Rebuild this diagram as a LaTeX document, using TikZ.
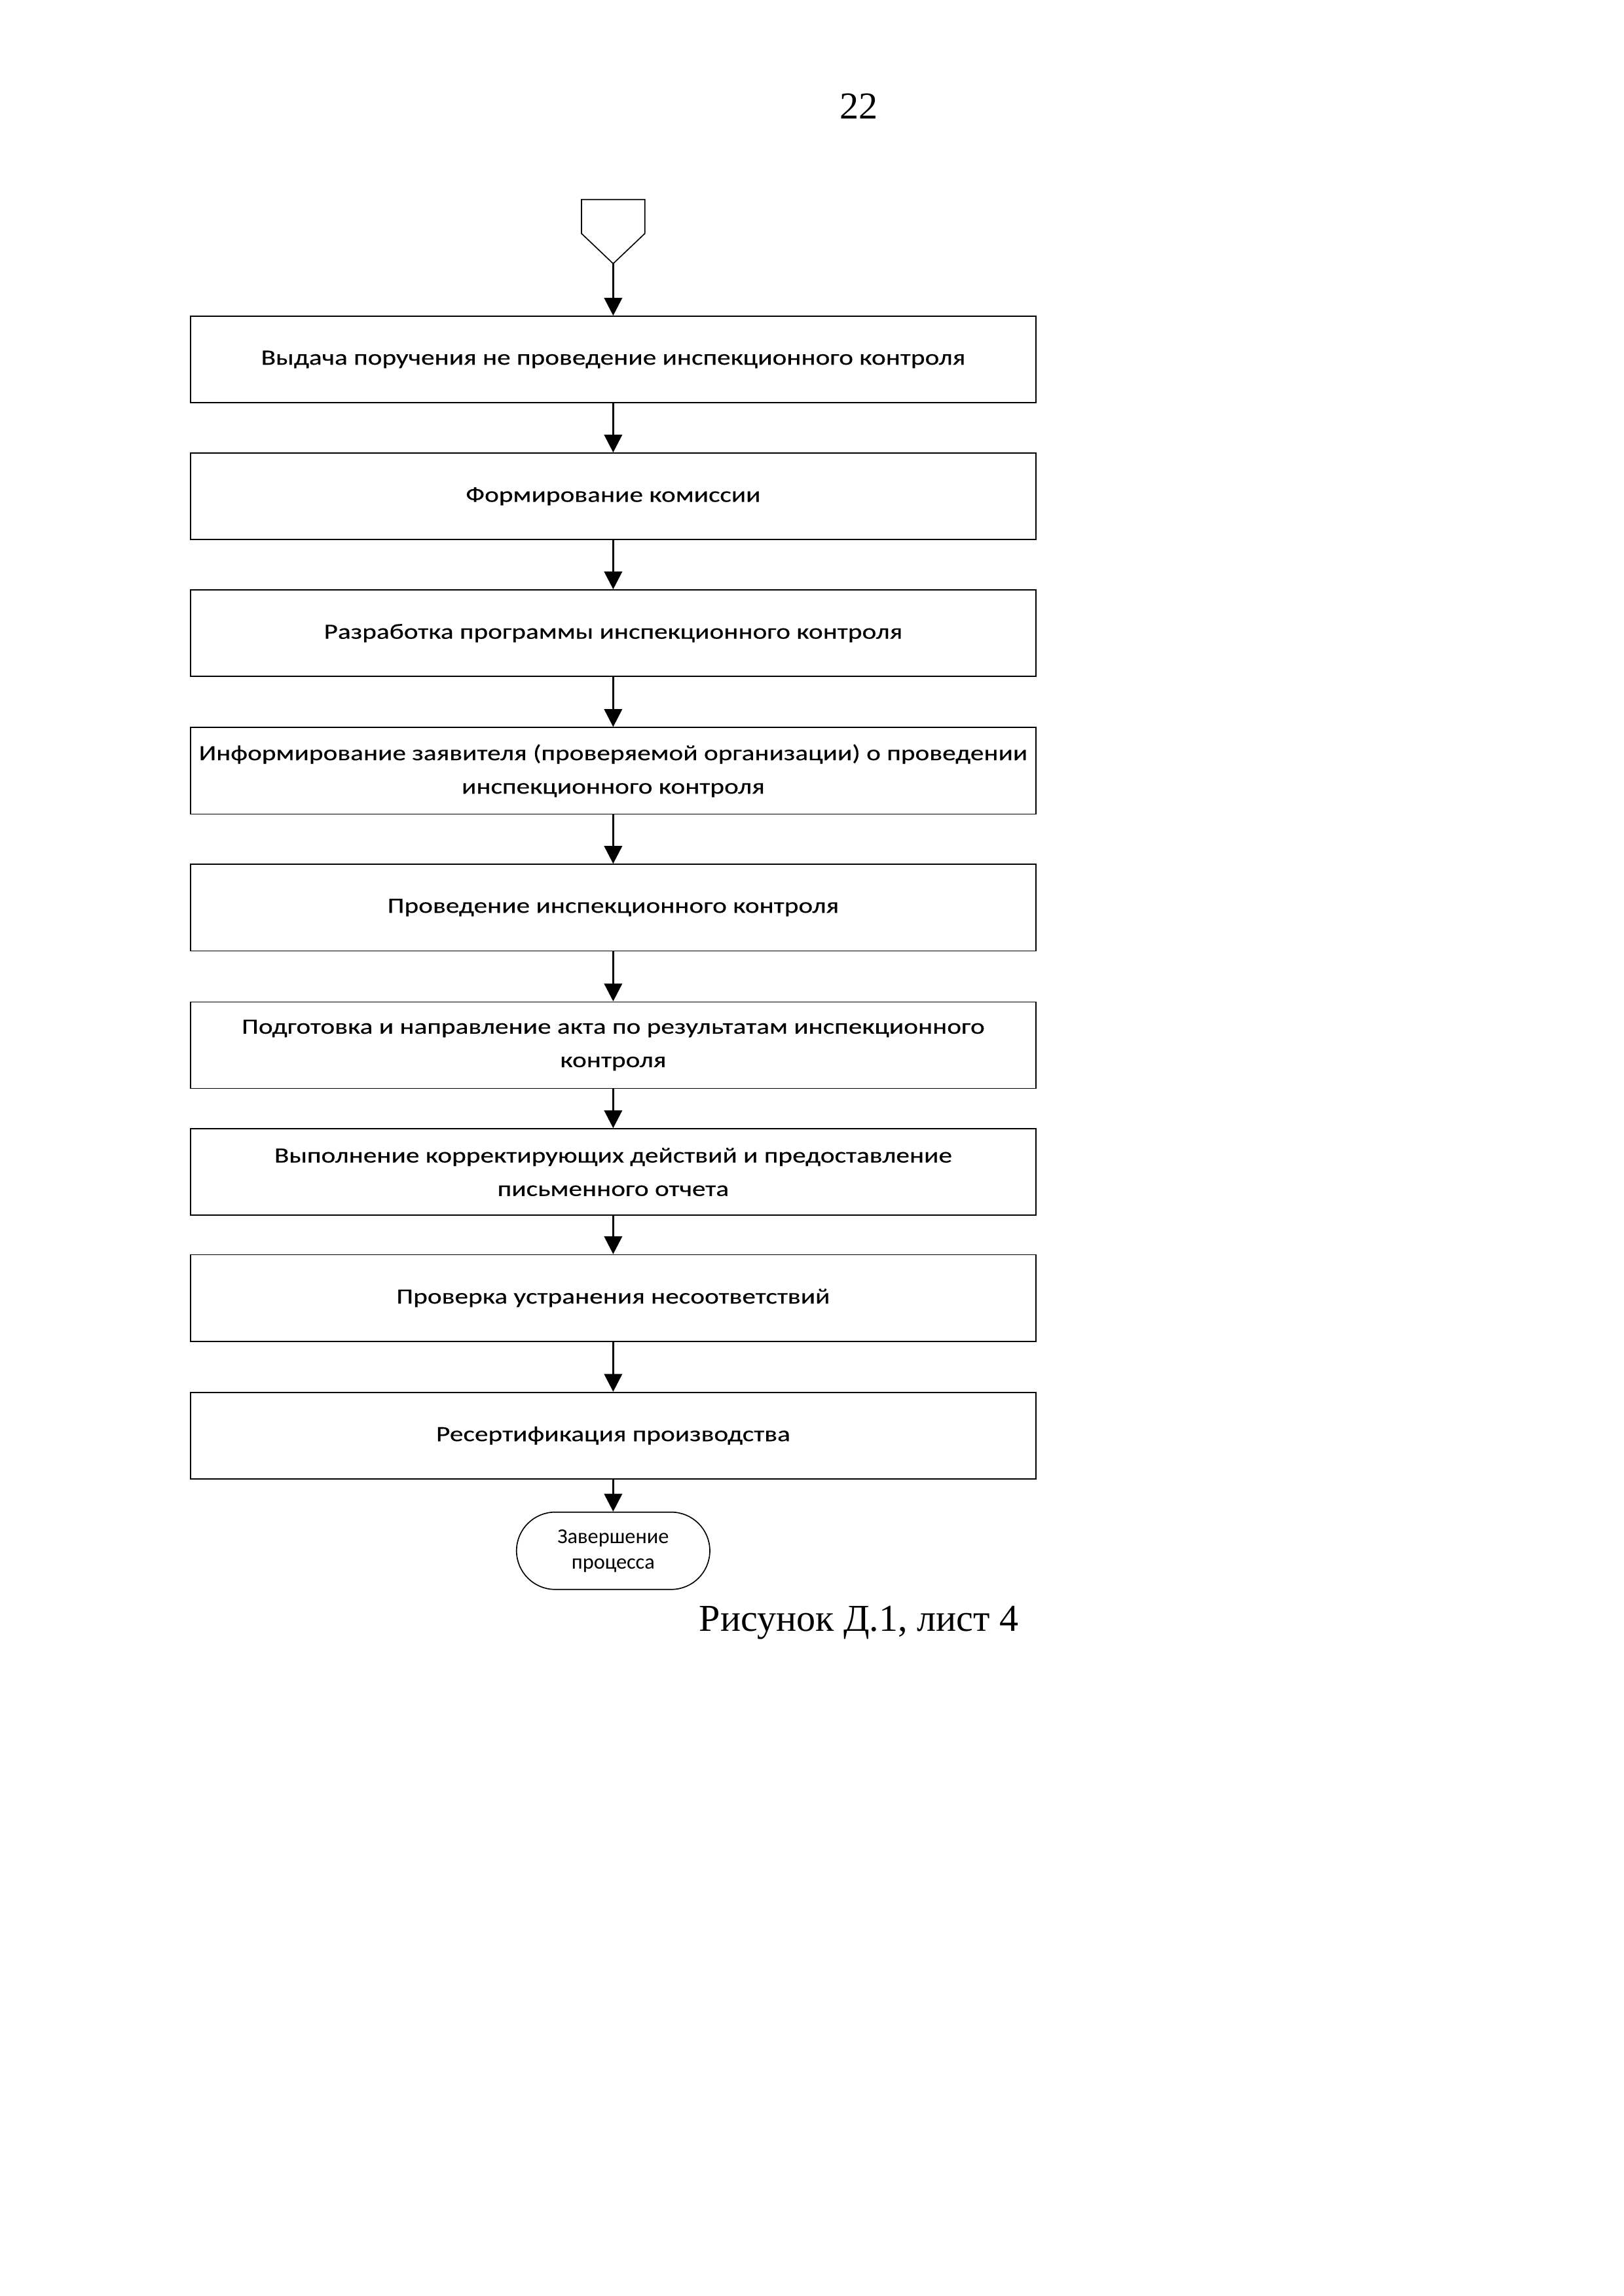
\documentclass[tikz,border=0pt]{standalone}
\usepackage{fontspec}
\setmainfont{Liberation Serif}
\newfontfamily\boxfont{Carlito}
\newfontfamily\stagefont[FakeStretch=1.245,FakeBold=0.3]{Carlito}
\usetikzlibrary{arrows.meta}

\begin{document}
\begin{tikzpicture}[x=1mm,y=-1mm,
  stage/.style={draw,line width=0.4pt,minimum width=109.3mm,minimum height=11.2mm,
    inner sep=0pt,align=center,font=\stagefont\fontsize{8}{12.3}\selectfont},
  flow/.style={-{Triangle[length=2.3mm,width=2.3mm]},line width=0.8pt}]
  \useasboundingbox (0,0) rectangle (210,297);
  \node[anchor=base,font=\fontsize{14}{17}\selectfont] (page) at (111.1,15.4) {22};
  \draw[line width=0.4pt] (75.2,25.8) -- (83.4,25.8) -- (83.4,30.2) -- (79.3,34.1) -- (75.2,30.2) -- cycle;
  \coordinate (conn) at (79.3,34.1);
  \node[stage] (s1) at (79.3,46.5) {Выдача поручения не проведение инспекционного контроля};
  \node[stage] (s2) at (79.3,64.2) {Формирование комиссии};
  \node[stage] (s3) at (79.3,81.9) {Разработка программы инспекционного контроля};
  \node[stage] (s4) at (79.3,99.7) {Информирование заявителя (проверяемой организации) о проведении\\инспекционного контроля};
  \node[stage] (s5) at (79.3,117.4) {Проведение инспекционного контроля};
  \node[stage] (s6) at (79.3,135.2) {Подготовка и направление акта по результатам инспекционного\\контроля};
  \node[stage] (s7) at (79.3,151.6) {Выполнение корректирующих действий и предоставление\\письменного отчета};
  \node[stage] (s8) at (79.3,167.9) {Проверка устранения несоответствий};
  \node[stage] (s9) at (79.3,185.7) {Ресертификация производства};
  \node[draw,line width=0.4pt,rounded corners=5mm,minimum width=25mm,minimum height=10mm,
    inner sep=0pt,align=center,font=\boxfont\fontsize{7.8}{9.4}\selectfont] (end) at (79.3,200.6) {Завершение\\процесса};
  \node[anchor=base west,inner sep=0pt,font=\fontsize{14}{17}\selectfont] (cap) at (90.35,211.0) {Рисунок Д.1, лист 4};
  \draw[flow] (conn) -- (s1);
  \foreach \a/\b in {s1/s2,s2/s3,s3/s4,s4/s5,s5/s6,s6/s7,s7/s8,s8/s9,s9/end}
    \draw[flow] (\a) -- (\b);
\end{tikzpicture}
\end{document}
